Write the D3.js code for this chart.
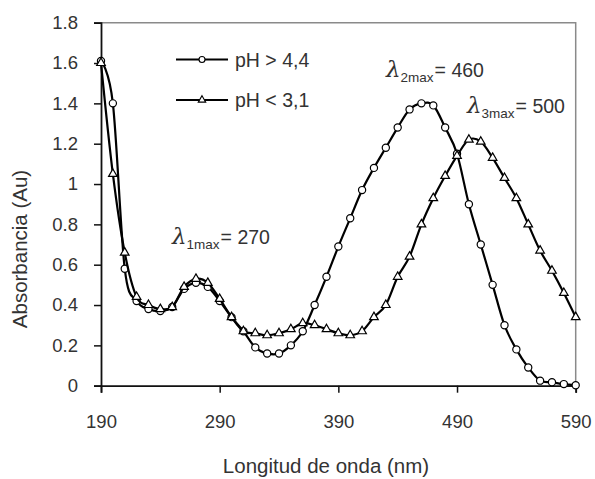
<!DOCTYPE html>
<html>
<head>
<meta charset="utf-8">
<script src="https://cdn.jsdelivr.net/npm/d3@7"></script>
<style>
  body { margin: 0; background: #fff; }
  text { font-family: "Liberation Sans", Arial, sans-serif; fill: #333; }
</style>
</head>
<body>
<div id="chart"></div>
<script>
const wavelengths = [190, 200, 210, 220, 230, 240, 250, 260, 270, 280, 290, 300, 310, 320, 330, 340, 350, 360, 370, 380, 390,
  400, 410, 420, 430, 440, 450, 460, 470, 480, 490, 500, 510, 520, 530, 540, 550, 560, 570, 580, 590];

// pH > 4,4 (circles)
const basic = [1.61, 1.40, 0.58, 0.42, 0.38, 0.37, 0.39, 0.48, 0.51, 0.49, 0.42, 0.34, 0.27, 0.19, 0.16, 0.16, 0.20, 0.27, 0.40, 0.54, 0.69,
  0.83, 0.97, 1.08, 1.18, 1.28, 1.37, 1.40, 1.39, 1.28, 1.15, 0.90, 0.70, 0.50, 0.30, 0.18, 0.09, 0.025, 0.017, 0.008, 0.002];

// pH < 3,1 (triangles)
const acid = [1.60, 1.05, 0.66, 0.44, 0.40, 0.38, 0.39, 0.49, 0.53, 0.51, 0.43, 0.34, 0.27, 0.26, 0.25, 0.26, 0.28, 0.31, 0.30, 0.28, 0.26,
  0.25, 0.27, 0.34, 0.40, 0.54, 0.64, 0.80, 0.93, 1.04, 1.14, 1.22, 1.21, 1.13, 1.03, 0.93, 0.80, 0.67, 0.57, 0.46, 0.34];

const xTicks = [190, 290, 390, 490, 590];
const yTicks = [0, 0.2, 0.4, 0.6, 0.8, 1, 1.2, 1.4, 1.6, 1.8];

const seriesNames = ["pH > 4,4", "pH < 3,1"];

const peaks = [
  { sub: "1max", label: "= 270" },
  { sub: "2max", label: "= 460" },
  { sub: "3max", label: "= 500" }
];

const width = 595, height = 479;
const plotL = 101, plotR = 575.7, plotT = 22.7, plotB = 385.7;

const svg = d3.select("#chart").append("svg")
  .attr("width", width)
  .attr("height", height);

const x = d3.scaleLinear().domain([190, 590]).range([plotL, plotR]);
const y = d3.scaleLinear().domain([0, 1.8]).range([plotB, plotT]);

// plot border (top/right gray)
svg.append("path")
  .attr("d", `M${plotL},${plotT}H${plotR}V${plotB}`)
  .attr("fill", "none")
  .attr("stroke", "#8a8a8a")
  .attr("stroke-width", 1.5);

// axes
const yAxis = svg.append("g")
  .attr("transform", `translate(${plotL},0)`)
  .call(d3.axisLeft(y).tickValues(yTicks).tickSize(7).tickPadding(16).tickFormat(d => d));
const xAxis = svg.append("g")
  .attr("transform", `translate(0,${plotB})`)
  .call(d3.axisBottom(x).tickValues(xTicks).tickSize(7).tickPadding(22));

[yAxis, xAxis].forEach(g => {
  g.select(".domain").attr("stroke", "#111").attr("stroke-width", 1.8);
  g.selectAll(".tick line").attr("stroke", "#111").attr("stroke-width", 1.5);
  g.selectAll(".tick text")
    .attr("font-size", 18.5)
    .attr("font-family", "Liberation Sans, Arial, sans-serif")
    .attr("fill", "#333");
});

// axis titles
svg.append("text")
  .attr("x", 326).attr("y", 473)
  .attr("text-anchor", "middle")
  .attr("font-size", 20.5)
  .text("Longitud de onda (nm)");

svg.append("text")
  .attr("transform", "translate(27,249) rotate(-90)")
  .attr("text-anchor", "middle")
  .attr("font-size", 20.5)
  .text("Absorbancia (Au)");

// series
const line = d3.line()
  .x((d, i) => x(wavelengths[i]))
  .y(d => y(d))
  .curve(d3.curveCatmullRom.alpha(0));

const triangle = d3.symbol().type(d3.symbolTriangle).size(32);

svg.append("path")
  .attr("d", line(basic))
  .attr("fill", "none")
  .attr("stroke", "#000")
  .attr("stroke-width", 2.2);

svg.append("g").selectAll("circle")
  .data(basic)
  .join("circle")
  .attr("cx", (d, i) => x(wavelengths[i]))
  .attr("cy", d => y(d))
  .attr("r", 3.6)
  .attr("fill", "#fff")
  .attr("stroke", "#000")
  .attr("stroke-width", 1.2);

svg.append("path")
  .attr("d", line(acid))
  .attr("fill", "none")
  .attr("stroke", "#000")
  .attr("stroke-width", 2.2);

svg.append("g").selectAll("path")
  .data(acid)
  .join("path")
  .attr("d", triangle)
  .attr("transform", (d, i) => `translate(${x(wavelengths[i])},${y(d)})`)
  .attr("fill", "#fff")
  .attr("stroke", "#000")
  .attr("stroke-width", 1.2);

// legend
const legend = svg.append("g");
const legendY = [59.5, 100];
seriesNames.forEach((name, i) => {
  legend.append("line")
    .attr("x1", 176).attr("x2", 228)
    .attr("y1", legendY[i]).attr("y2", legendY[i])
    .attr("stroke", "#000").attr("stroke-width", 2.2);
  if (i === 0) {
    legend.append("circle")
      .attr("cx", 202).attr("cy", legendY[i]).attr("r", 3)
      .attr("fill", "#fff").attr("stroke", "#000").attr("stroke-width", 1.1);
  } else {
    legend.append("path")
      .attr("d", d3.symbol().type(d3.symbolTriangle).size(24)())
      .attr("transform", `translate(202,${legendY[i]})`)
      .attr("fill", "#fff").attr("stroke", "#000").attr("stroke-width", 1.1);
  }
  legend.append("text")
    .attr("x", 235).attr("y", legendY[i] + 7)
    .attr("font-size", 19.5)
    .text(name);
});

// peak annotations
const peakPos = [[172, 244], [386, 77], [467, 113]];
peaks.forEach((p, i) => {
  const t = svg.append("text")
    .attr("x", peakPos[i][0]).attr("y", peakPos[i][1])
    .attr("font-size", 19.5);
  t.append("tspan")
    .attr("font-family", "DejaVu Serif, serif")
    .attr("font-style", "italic")
    .attr("font-size", 23)
    .text("λ");
  t.append("tspan")
    .attr("font-size", 13.5)
    .attr("dy", 5)
    .text(p.sub);
  t.append("tspan")
    .attr("dy", -5)
    .attr("dx", 1)
    .text(p.label);
});
</script>
</body>
</html>
